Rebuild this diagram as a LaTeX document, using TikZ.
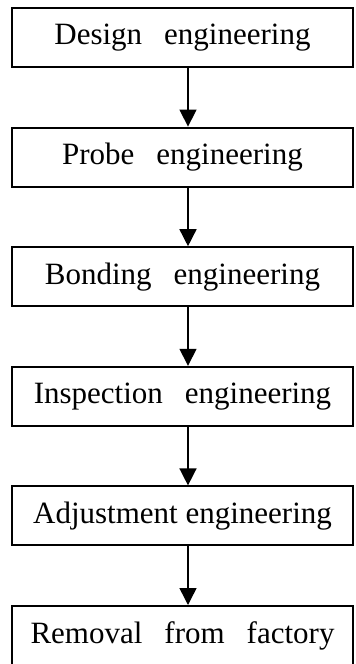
\documentclass[tikz,border=0pt]{standalone}
\usepackage{fontspec}
\setmainfont{Liberation Serif}
\usetikzlibrary{arrows.meta}

% wider gaps between words
\newcommand\widegaps{\spaceskip=11pt plus 1pt\relax}

\tikzset{
  stage/.style={draw, line width=1pt, minimum width=170.5pt, minimum height=29.5pt,
    inner sep=0pt, font=\fontsize{15.5}{18}\selectfont\widegaps},
  narrow/.style={font=\fontsize{15.5}{18}\selectfont},
  flow/.style={line width=0.75pt, -{Triangle[length=8.5pt,width=8.5pt]}}
}

\begin{document}
\begin{tikzpicture}[x=1pt,y=1pt]
          \useasboundingbox (0,0) rectangle (177.5,-332);
          \node[stage] (v1) at (91.25,-18.75) {Design engineering};
          \node[stage] (v2) at (91.25,-78.55) {Probe engineering};
          \node[stage] (v3) at (91.25,-138.35) {Bonding engineering};
          \node[stage] (v4) at (91.25,-198.15) {Inspection engineering};
          \node[stage, narrow] (v5) at (91.25,-257.95) {Adjustment engineering};
          \node[stage] (v6) at (91.25,-317.75) {Removal from factory};

          \draw [flow] ([xshift=2.75pt]v1.south) -- ([xshift=2.75pt]v2.north);
          \draw [flow] ([xshift=2.75pt]v2.south) -- ([xshift=2.75pt]v3.north);
          \draw [flow] ([xshift=2.75pt]v3.south) -- ([xshift=2.75pt]v4.north);
          \draw [flow] ([xshift=2.75pt]v4.south) -- ([xshift=2.75pt]v5.north);
          \draw [flow] ([xshift=2.75pt]v5.south) -- ([xshift=2.75pt]v6.north);
\end{tikzpicture}
\end{document}
